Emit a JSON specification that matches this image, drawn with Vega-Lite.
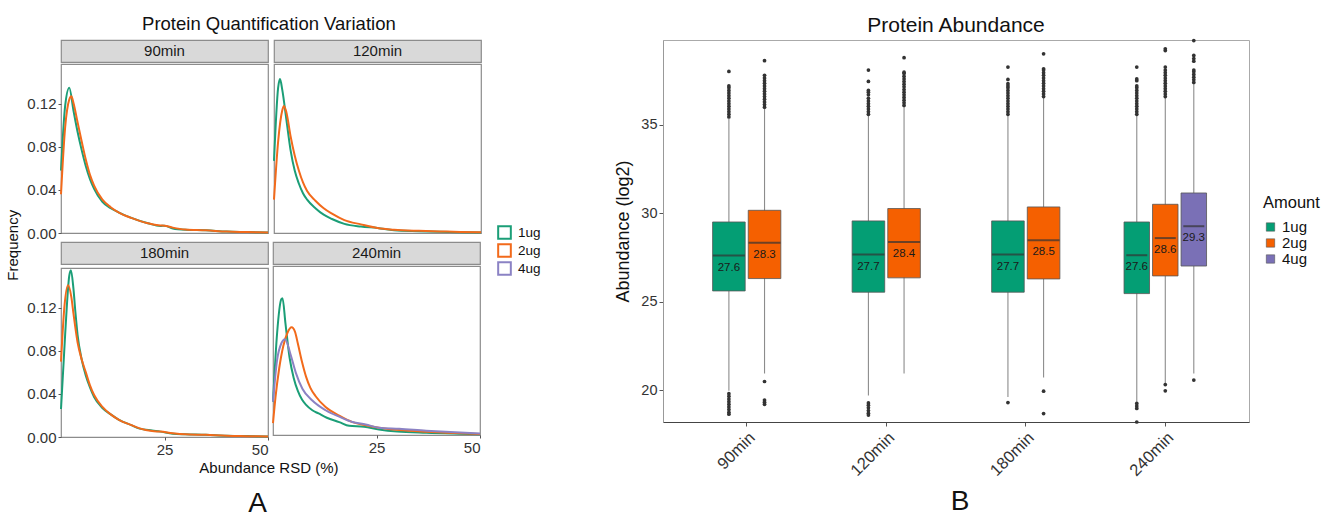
{
  "$schema": "https://vega.github.io/schema/vega-lite/v6.json",
  "background": "white",
  "padding": {"left": 6, "top": 14, "right": 5, "bottom": 0},
  "config": {
    "font": "Liberation Sans",
    "title": {"fontWeight": "normal", "color": "#111111"},
    "axis": {"grid": false, "labelColor": "#333333", "titleColor": "#111111", "tickColor": "#555555", "titleFontWeight": "normal"},
    "legend": {"labelColor": "#111111", "titleColor": "#111111", "padding": 0}
  },
  "datasets": {
    "dens": [
      {"Time":"90min","Amount":"1ug","RSD":0,"Freq":0.058},{"Time":"90min","Amount":"1ug","RSD":1,"Freq":0.118},{"Time":"90min","Amount":"1ug","RSD":2,"Freq":0.135},{"Time":"90min","Amount":"1ug","RSD":3,"Freq":0.114},{"Time":"90min","Amount":"1ug","RSD":4,"Freq":0.094},{"Time":"90min","Amount":"1ug","RSD":5,"Freq":0.077},{"Time":"90min","Amount":"1ug","RSD":6,"Freq":0.062},{"Time":"90min","Amount":"1ug","RSD":7,"Freq":0.05},{"Time":"90min","Amount":"1ug","RSD":8,"Freq":0.041},{"Time":"90min","Amount":"1ug","RSD":10,"Freq":0.029},{"Time":"90min","Amount":"1ug","RSD":12,"Freq":0.023},{"Time":"90min","Amount":"1ug","RSD":14,"Freq":0.019},{"Time":"90min","Amount":"1ug","RSD":17,"Freq":0.014},{"Time":"90min","Amount":"1ug","RSD":21,"Freq":0.009},{"Time":"90min","Amount":"1ug","RSD":24,"Freq":0.0065},{"Time":"90min","Amount":"1ug","RSD":25,"Freq":0.0068},{"Time":"90min","Amount":"1ug","RSD":27,"Freq":0.0042},{"Time":"90min","Amount":"1ug","RSD":30,"Freq":0.003},{"Time":"90min","Amount":"1ug","RSD":35,"Freq":0.0025},{"Time":"90min","Amount":"1ug","RSD":40,"Freq":0.0013},{"Time":"90min","Amount":"1ug","RSD":45,"Freq":0.0009},{"Time":"90min","Amount":"1ug","RSD":50,"Freq":0.0004},
      {"Time":"90min","Amount":"2ug","RSD":0,"Freq":0.036},{"Time":"90min","Amount":"2ug","RSD":1,"Freq":0.098},{"Time":"90min","Amount":"2ug","RSD":2,"Freq":0.124},{"Time":"90min","Amount":"2ug","RSD":2.5,"Freq":0.127},{"Time":"90min","Amount":"2ug","RSD":3,"Freq":0.121},{"Time":"90min","Amount":"2ug","RSD":4,"Freq":0.103},{"Time":"90min","Amount":"2ug","RSD":5,"Freq":0.085},{"Time":"90min","Amount":"2ug","RSD":6,"Freq":0.068},{"Time":"90min","Amount":"2ug","RSD":7,"Freq":0.054},{"Time":"90min","Amount":"2ug","RSD":8,"Freq":0.044},{"Time":"90min","Amount":"2ug","RSD":10,"Freq":0.031},{"Time":"90min","Amount":"2ug","RSD":12,"Freq":0.024},{"Time":"90min","Amount":"2ug","RSD":14,"Freq":0.019},{"Time":"90min","Amount":"2ug","RSD":17,"Freq":0.014},{"Time":"90min","Amount":"2ug","RSD":21,"Freq":0.009},{"Time":"90min","Amount":"2ug","RSD":24,"Freq":0.007},{"Time":"90min","Amount":"2ug","RSD":25,"Freq":0.0068},{"Time":"90min","Amount":"2ug","RSD":27,"Freq":0.005},{"Time":"90min","Amount":"2ug","RSD":30,"Freq":0.0032},{"Time":"90min","Amount":"2ug","RSD":35,"Freq":0.0025},{"Time":"90min","Amount":"2ug","RSD":40,"Freq":0.0013},{"Time":"90min","Amount":"2ug","RSD":45,"Freq":0.0009},{"Time":"90min","Amount":"2ug","RSD":50,"Freq":0.0005},
      {"Time":"120min","Amount":"1ug","RSD":0,"Freq":0.067},{"Time":"120min","Amount":"1ug","RSD":1,"Freq":0.135},{"Time":"120min","Amount":"1ug","RSD":1.45,"Freq":0.143},{"Time":"120min","Amount":"1ug","RSD":2,"Freq":0.133},{"Time":"120min","Amount":"1ug","RSD":3,"Freq":0.105},{"Time":"120min","Amount":"1ug","RSD":4,"Freq":0.077},{"Time":"120min","Amount":"1ug","RSD":5,"Freq":0.058},{"Time":"120min","Amount":"1ug","RSD":6,"Freq":0.046},{"Time":"120min","Amount":"1ug","RSD":7,"Freq":0.037},{"Time":"120min","Amount":"1ug","RSD":8,"Freq":0.031},{"Time":"120min","Amount":"1ug","RSD":10,"Freq":0.023},{"Time":"120min","Amount":"1ug","RSD":12,"Freq":0.017},{"Time":"120min","Amount":"1ug","RSD":14,"Freq":0.013},{"Time":"120min","Amount":"1ug","RSD":17,"Freq":0.0085},{"Time":"120min","Amount":"1ug","RSD":21,"Freq":0.006},{"Time":"120min","Amount":"1ug","RSD":25,"Freq":0.0046},{"Time":"120min","Amount":"1ug","RSD":29,"Freq":0.0025},{"Time":"120min","Amount":"1ug","RSD":35,"Freq":0.0017},{"Time":"120min","Amount":"1ug","RSD":40,"Freq":0.0012},{"Time":"120min","Amount":"1ug","RSD":45,"Freq":0.0008},{"Time":"120min","Amount":"1ug","RSD":50,"Freq":0.0005},
      {"Time":"120min","Amount":"2ug","RSD":0,"Freq":0.031},{"Time":"120min","Amount":"2ug","RSD":1,"Freq":0.085},{"Time":"120min","Amount":"2ug","RSD":2,"Freq":0.114},{"Time":"120min","Amount":"2ug","RSD":2.4,"Freq":0.118},{"Time":"120min","Amount":"2ug","RSD":3,"Freq":0.112},{"Time":"120min","Amount":"2ug","RSD":4,"Freq":0.09},{"Time":"120min","Amount":"2ug","RSD":5,"Freq":0.072},{"Time":"120min","Amount":"2ug","RSD":6,"Freq":0.058},{"Time":"120min","Amount":"2ug","RSD":7,"Freq":0.047},{"Time":"120min","Amount":"2ug","RSD":8,"Freq":0.039},{"Time":"120min","Amount":"2ug","RSD":10,"Freq":0.03},{"Time":"120min","Amount":"2ug","RSD":12,"Freq":0.023},{"Time":"120min","Amount":"2ug","RSD":14,"Freq":0.018},{"Time":"120min","Amount":"2ug","RSD":17,"Freq":0.012},{"Time":"120min","Amount":"2ug","RSD":21,"Freq":0.008},{"Time":"120min","Amount":"2ug","RSD":25,"Freq":0.0046},{"Time":"120min","Amount":"2ug","RSD":29,"Freq":0.003},{"Time":"120min","Amount":"2ug","RSD":35,"Freq":0.002},{"Time":"120min","Amount":"2ug","RSD":40,"Freq":0.0015},{"Time":"120min","Amount":"2ug","RSD":45,"Freq":0.001},{"Time":"120min","Amount":"2ug","RSD":50,"Freq":0.0006},
      {"Time":"180min","Amount":"1ug","RSD":0,"Freq":0.026},{"Time":"180min","Amount":"1ug","RSD":1,"Freq":0.095},{"Time":"180min","Amount":"1ug","RSD":2,"Freq":0.15},{"Time":"180min","Amount":"1ug","RSD":2.4,"Freq":0.155},{"Time":"180min","Amount":"1ug","RSD":3,"Freq":0.138},{"Time":"180min","Amount":"1ug","RSD":3.5,"Freq":0.115},{"Time":"180min","Amount":"1ug","RSD":4,"Freq":0.095},{"Time":"180min","Amount":"1ug","RSD":5,"Freq":0.072},{"Time":"180min","Amount":"1ug","RSD":6,"Freq":0.057},{"Time":"180min","Amount":"1ug","RSD":7,"Freq":0.046},{"Time":"180min","Amount":"1ug","RSD":8,"Freq":0.037},{"Time":"180min","Amount":"1ug","RSD":10,"Freq":0.027},{"Time":"180min","Amount":"1ug","RSD":12,"Freq":0.021},{"Time":"180min","Amount":"1ug","RSD":14,"Freq":0.016},{"Time":"180min","Amount":"1ug","RSD":17,"Freq":0.011},{"Time":"180min","Amount":"1ug","RSD":19,"Freq":0.0078},{"Time":"180min","Amount":"1ug","RSD":22,"Freq":0.006},{"Time":"180min","Amount":"1ug","RSD":24,"Freq":0.005},{"Time":"180min","Amount":"1ug","RSD":27,"Freq":0.003},{"Time":"180min","Amount":"1ug","RSD":30,"Freq":0.0025},{"Time":"180min","Amount":"1ug","RSD":35,"Freq":0.002},{"Time":"180min","Amount":"1ug","RSD":40,"Freq":0.0012},{"Time":"180min","Amount":"1ug","RSD":45,"Freq":0.0009},{"Time":"180min","Amount":"1ug","RSD":50,"Freq":0.0004},
      {"Time":"180min","Amount":"2ug","RSD":0,"Freq":0.07},{"Time":"180min","Amount":"2ug","RSD":0.8,"Freq":0.12},{"Time":"180min","Amount":"2ug","RSD":1.7,"Freq":0.141},{"Time":"180min","Amount":"2ug","RSD":2.5,"Freq":0.13},{"Time":"180min","Amount":"2ug","RSD":3,"Freq":0.115},{"Time":"180min","Amount":"2ug","RSD":4,"Freq":0.088},{"Time":"180min","Amount":"2ug","RSD":5,"Freq":0.072},{"Time":"180min","Amount":"2ug","RSD":6,"Freq":0.06},{"Time":"180min","Amount":"2ug","RSD":7,"Freq":0.048},{"Time":"180min","Amount":"2ug","RSD":8,"Freq":0.039},{"Time":"180min","Amount":"2ug","RSD":10,"Freq":0.028},{"Time":"180min","Amount":"2ug","RSD":12,"Freq":0.021},{"Time":"180min","Amount":"2ug","RSD":14,"Freq":0.016},{"Time":"180min","Amount":"2ug","RSD":17,"Freq":0.011},{"Time":"180min","Amount":"2ug","RSD":19,"Freq":0.008},{"Time":"180min","Amount":"2ug","RSD":22,"Freq":0.0055},{"Time":"180min","Amount":"2ug","RSD":24,"Freq":0.005},{"Time":"180min","Amount":"2ug","RSD":27,"Freq":0.0035},{"Time":"180min","Amount":"2ug","RSD":30,"Freq":0.0025},{"Time":"180min","Amount":"2ug","RSD":35,"Freq":0.002},{"Time":"180min","Amount":"2ug","RSD":40,"Freq":0.0012},{"Time":"180min","Amount":"2ug","RSD":45,"Freq":0.0008},{"Time":"180min","Amount":"2ug","RSD":50,"Freq":0.0004},
      {"Time":"240min","Amount":"1ug","RSD":0,"Freq":0.031},{"Time":"240min","Amount":"1ug","RSD":1,"Freq":0.095},{"Time":"240min","Amount":"1ug","RSD":2,"Freq":0.126},{"Time":"240min","Amount":"1ug","RSD":2.3,"Freq":0.127},{"Time":"240min","Amount":"1ug","RSD":3,"Freq":0.104},{"Time":"240min","Amount":"1ug","RSD":4,"Freq":0.072},{"Time":"240min","Amount":"1ug","RSD":5,"Freq":0.053},{"Time":"240min","Amount":"1ug","RSD":6,"Freq":0.041},{"Time":"240min","Amount":"1ug","RSD":7,"Freq":0.033},{"Time":"240min","Amount":"1ug","RSD":8,"Freq":0.028},{"Time":"240min","Amount":"1ug","RSD":9.5,"Freq":0.023},{"Time":"240min","Amount":"1ug","RSD":11,"Freq":0.02},{"Time":"240min","Amount":"1ug","RSD":13,"Freq":0.016},{"Time":"240min","Amount":"1ug","RSD":16,"Freq":0.012},{"Time":"240min","Amount":"1ug","RSD":18.4,"Freq":0.0085},{"Time":"240min","Amount":"1ug","RSD":22,"Freq":0.0077},{"Time":"240min","Amount":"1ug","RSD":25.6,"Freq":0.0052},{"Time":"240min","Amount":"1ug","RSD":30,"Freq":0.0032},{"Time":"240min","Amount":"1ug","RSD":37,"Freq":0.002},{"Time":"240min","Amount":"1ug","RSD":45,"Freq":0.0012},{"Time":"240min","Amount":"1ug","RSD":50,"Freq":0.0008},
      {"Time":"240min","Amount":"2ug","RSD":0,"Freq":0.011},{"Time":"240min","Amount":"2ug","RSD":0.6,"Freq":0.035},{"Time":"240min","Amount":"2ug","RSD":1.5,"Freq":0.062},{"Time":"240min","Amount":"2ug","RSD":2.5,"Freq":0.083},{"Time":"240min","Amount":"2ug","RSD":3.5,"Freq":0.095},{"Time":"240min","Amount":"2ug","RSD":4.5,"Freq":0.1},{"Time":"240min","Amount":"2ug","RSD":5.3,"Freq":0.096},{"Time":"240min","Amount":"2ug","RSD":6,"Freq":0.085},{"Time":"240min","Amount":"2ug","RSD":7,"Freq":0.068},{"Time":"240min","Amount":"2ug","RSD":8,"Freq":0.054},{"Time":"240min","Amount":"2ug","RSD":9,"Freq":0.044},{"Time":"240min","Amount":"2ug","RSD":10.3,"Freq":0.036},{"Time":"240min","Amount":"2ug","RSD":12.7,"Freq":0.026},{"Time":"240min","Amount":"2ug","RSD":16,"Freq":0.018},{"Time":"240min","Amount":"2ug","RSD":19.2,"Freq":0.012},{"Time":"240min","Amount":"2ug","RSD":22.4,"Freq":0.009},{"Time":"240min","Amount":"2ug","RSD":25.6,"Freq":0.0068},{"Time":"240min","Amount":"2ug","RSD":30.5,"Freq":0.0046},{"Time":"240min","Amount":"2ug","RSD":37,"Freq":0.003},{"Time":"240min","Amount":"2ug","RSD":44,"Freq":0.0018},{"Time":"240min","Amount":"2ug","RSD":50,"Freq":0.001},
      {"Time":"240min","Amount":"4ug","RSD":0,"Freq":0.031},{"Time":"240min","Amount":"4ug","RSD":1,"Freq":0.07},{"Time":"240min","Amount":"4ug","RSD":2,"Freq":0.085},{"Time":"240min","Amount":"4ug","RSD":2.9,"Freq":0.089},{"Time":"240min","Amount":"4ug","RSD":4.3,"Freq":0.074},{"Time":"240min","Amount":"4ug","RSD":5.5,"Freq":0.058},{"Time":"240min","Amount":"4ug","RSD":7.1,"Freq":0.043},{"Time":"240min","Amount":"4ug","RSD":9.5,"Freq":0.032},{"Time":"240min","Amount":"4ug","RSD":12.7,"Freq":0.023},{"Time":"240min","Amount":"4ug","RSD":16,"Freq":0.017},{"Time":"240min","Amount":"4ug","RSD":19.2,"Freq":0.012},{"Time":"240min","Amount":"4ug","RSD":22.4,"Freq":0.0098},{"Time":"240min","Amount":"4ug","RSD":25.6,"Freq":0.0068},{"Time":"240min","Amount":"4ug","RSD":30.5,"Freq":0.0058},{"Time":"240min","Amount":"4ug","RSD":37,"Freq":0.004},{"Time":"240min","Amount":"4ug","RSD":44,"Freq":0.0025},{"Time":"240min","Amount":"4ug","RSD":50,"Freq":0.0015}
    ],
    "box": [
      {"Time":"90min","Amount":"1ug","lower":19.96,"q1":25.61,"median":27.61,"q3":29.51,"upper":35.35},
      {"Time":"90min","Amount":"2ug","lower":20.94,"q1":26.31,"median":28.34,"q3":30.17,"upper":35.92},
      {"Time":"120min","Amount":"1ug","lower":19.7,"q1":25.54,"median":27.67,"q3":29.57,"upper":35.54},
      {"Time":"120min","Amount":"2ug","lower":20.94,"q1":26.35,"median":28.38,"q3":30.27,"upper":36.05},
      {"Time":"180min","Amount":"1ug","lower":19.62,"q1":25.54,"median":27.67,"q3":29.57,"upper":35.54},
      {"Time":"180min","Amount":"2ug","lower":20.72,"q1":26.29,"median":28.47,"q3":30.36,"upper":36.57},
      {"Time":"240min","Amount":"1ug","lower":19.34,"q1":25.46,"median":27.63,"q3":29.51,"upper":35.54},
      {"Time":"240min","Amount":"2ug","lower":20.41,"q1":26.46,"median":28.6,"q3":30.51,"upper":36.57},
      {"Time":"240min","Amount":"4ug","lower":20.94,"q1":27.02,"median":29.27,"q3":31.15,"upper":37.33}
    ],
    "out": [
      {"Time":"90min","Amount":"1ug","Abundance":35.45},{"Time":"90min","Amount":"1ug","Abundance":35.6},{"Time":"90min","Amount":"1ug","Abundance":35.75},{"Time":"90min","Amount":"1ug","Abundance":35.9},{"Time":"90min","Amount":"1ug","Abundance":36.05},{"Time":"90min","Amount":"1ug","Abundance":36.2},{"Time":"90min","Amount":"1ug","Abundance":36.35},{"Time":"90min","Amount":"1ug","Abundance":36.5},{"Time":"90min","Amount":"1ug","Abundance":36.65},{"Time":"90min","Amount":"1ug","Abundance":36.8},{"Time":"90min","Amount":"1ug","Abundance":36.95},{"Time":"90min","Amount":"1ug","Abundance":37.1},{"Time":"90min","Amount":"1ug","Abundance":37.2},{"Time":"90min","Amount":"1ug","Abundance":38.02},
      {"Time":"90min","Amount":"1ug","Abundance":19.8},{"Time":"90min","Amount":"1ug","Abundance":19.65},{"Time":"90min","Amount":"1ug","Abundance":19.5},{"Time":"90min","Amount":"1ug","Abundance":19.35},{"Time":"90min","Amount":"1ug","Abundance":19.2},{"Time":"90min","Amount":"1ug","Abundance":19.05},{"Time":"90min","Amount":"1ug","Abundance":18.9},{"Time":"90min","Amount":"1ug","Abundance":18.75},{"Time":"90min","Amount":"1ug","Abundance":18.64},
      {"Time":"90min","Amount":"2ug","Abundance":36.0},{"Time":"90min","Amount":"2ug","Abundance":36.15},{"Time":"90min","Amount":"2ug","Abundance":36.3},{"Time":"90min","Amount":"2ug","Abundance":36.45},{"Time":"90min","Amount":"2ug","Abundance":36.6},{"Time":"90min","Amount":"2ug","Abundance":36.75},{"Time":"90min","Amount":"2ug","Abundance":36.9},{"Time":"90min","Amount":"2ug","Abundance":37.05},{"Time":"90min","Amount":"2ug","Abundance":37.2},{"Time":"90min","Amount":"2ug","Abundance":37.35},{"Time":"90min","Amount":"2ug","Abundance":37.5},{"Time":"90min","Amount":"2ug","Abundance":37.65},{"Time":"90min","Amount":"2ug","Abundance":37.8},{"Time":"90min","Amount":"2ug","Abundance":38.63},
      {"Time":"90min","Amount":"2ug","Abundance":20.49},{"Time":"90min","Amount":"2ug","Abundance":19.44},{"Time":"90min","Amount":"2ug","Abundance":19.32},{"Time":"90min","Amount":"2ug","Abundance":19.2},
      {"Time":"120min","Amount":"1ug","Abundance":35.6},{"Time":"120min","Amount":"1ug","Abundance":35.75},{"Time":"120min","Amount":"1ug","Abundance":35.9},{"Time":"120min","Amount":"1ug","Abundance":36.05},{"Time":"120min","Amount":"1ug","Abundance":36.2},{"Time":"120min","Amount":"1ug","Abundance":36.35},{"Time":"120min","Amount":"1ug","Abundance":36.5},{"Time":"120min","Amount":"1ug","Abundance":36.7},{"Time":"120min","Amount":"1ug","Abundance":36.85},{"Time":"120min","Amount":"1ug","Abundance":36.95},{"Time":"120min","Amount":"1ug","Abundance":37.46},{"Time":"120min","Amount":"1ug","Abundance":38.1},
      {"Time":"120min","Amount":"1ug","Abundance":19.28},{"Time":"120min","Amount":"1ug","Abundance":19.15},{"Time":"120min","Amount":"1ug","Abundance":19.0},{"Time":"120min","Amount":"1ug","Abundance":18.85},{"Time":"120min","Amount":"1ug","Abundance":18.7},{"Time":"120min","Amount":"1ug","Abundance":18.59},
      {"Time":"120min","Amount":"2ug","Abundance":36.1},{"Time":"120min","Amount":"2ug","Abundance":36.25},{"Time":"120min","Amount":"2ug","Abundance":36.4},{"Time":"120min","Amount":"2ug","Abundance":36.55},{"Time":"120min","Amount":"2ug","Abundance":36.7},{"Time":"120min","Amount":"2ug","Abundance":36.85},{"Time":"120min","Amount":"2ug","Abundance":37.0},{"Time":"120min","Amount":"2ug","Abundance":37.15},{"Time":"120min","Amount":"2ug","Abundance":37.3},{"Time":"120min","Amount":"2ug","Abundance":37.45},{"Time":"120min","Amount":"2ug","Abundance":37.6},{"Time":"120min","Amount":"2ug","Abundance":37.75},{"Time":"120min","Amount":"2ug","Abundance":37.9},{"Time":"120min","Amount":"2ug","Abundance":37.98},{"Time":"120min","Amount":"2ug","Abundance":38.8},
      {"Time":"180min","Amount":"1ug","Abundance":35.6},{"Time":"180min","Amount":"1ug","Abundance":35.75},{"Time":"180min","Amount":"1ug","Abundance":35.9},{"Time":"180min","Amount":"1ug","Abundance":36.05},{"Time":"180min","Amount":"1ug","Abundance":36.2},{"Time":"180min","Amount":"1ug","Abundance":36.35},{"Time":"180min","Amount":"1ug","Abundance":36.5},{"Time":"180min","Amount":"1ug","Abundance":36.65},{"Time":"180min","Amount":"1ug","Abundance":36.8},{"Time":"180min","Amount":"1ug","Abundance":36.95},{"Time":"180min","Amount":"1ug","Abundance":37.1},{"Time":"180min","Amount":"1ug","Abundance":37.2},{"Time":"180min","Amount":"1ug","Abundance":37.33},{"Time":"180min","Amount":"1ug","Abundance":37.57},{"Time":"180min","Amount":"1ug","Abundance":38.27},
      {"Time":"180min","Amount":"1ug","Abundance":19.3},
      {"Time":"180min","Amount":"2ug","Abundance":36.6},{"Time":"180min","Amount":"2ug","Abundance":36.75},{"Time":"180min","Amount":"2ug","Abundance":36.9},{"Time":"180min","Amount":"2ug","Abundance":37.05},{"Time":"180min","Amount":"2ug","Abundance":37.2},{"Time":"180min","Amount":"2ug","Abundance":37.35},{"Time":"180min","Amount":"2ug","Abundance":37.5},{"Time":"180min","Amount":"2ug","Abundance":37.65},{"Time":"180min","Amount":"2ug","Abundance":37.8},{"Time":"180min","Amount":"2ug","Abundance":37.95},{"Time":"180min","Amount":"2ug","Abundance":38.1},{"Time":"180min","Amount":"2ug","Abundance":38.17},{"Time":"180min","Amount":"2ug","Abundance":39.02},
      {"Time":"180min","Amount":"2ug","Abundance":19.94},{"Time":"180min","Amount":"2ug","Abundance":18.68},
      {"Time":"240min","Amount":"1ug","Abundance":35.6},{"Time":"240min","Amount":"1ug","Abundance":35.75},{"Time":"240min","Amount":"1ug","Abundance":35.9},{"Time":"240min","Amount":"1ug","Abundance":36.05},{"Time":"240min","Amount":"1ug","Abundance":36.2},{"Time":"240min","Amount":"1ug","Abundance":36.35},{"Time":"240min","Amount":"1ug","Abundance":36.5},{"Time":"240min","Amount":"1ug","Abundance":36.65},{"Time":"240min","Amount":"1ug","Abundance":36.8},{"Time":"240min","Amount":"1ug","Abundance":36.95},{"Time":"240min","Amount":"1ug","Abundance":37.1},{"Time":"240min","Amount":"1ug","Abundance":37.2},{"Time":"240min","Amount":"1ug","Abundance":37.5},{"Time":"240min","Amount":"1ug","Abundance":37.6},{"Time":"240min","Amount":"1ug","Abundance":38.27},
      {"Time":"240min","Amount":"1ug","Abundance":19.25},{"Time":"240min","Amount":"1ug","Abundance":19.1},{"Time":"240min","Amount":"1ug","Abundance":18.97},{"Time":"240min","Amount":"1ug","Abundance":18.2},
      {"Time":"240min","Amount":"2ug","Abundance":36.6},{"Time":"240min","Amount":"2ug","Abundance":36.75},{"Time":"240min","Amount":"2ug","Abundance":36.9},{"Time":"240min","Amount":"2ug","Abundance":37.05},{"Time":"240min","Amount":"2ug","Abundance":37.2},{"Time":"240min","Amount":"2ug","Abundance":37.35},{"Time":"240min","Amount":"2ug","Abundance":37.5},{"Time":"240min","Amount":"2ug","Abundance":37.65},{"Time":"240min","Amount":"2ug","Abundance":37.8},{"Time":"240min","Amount":"2ug","Abundance":37.95},{"Time":"240min","Amount":"2ug","Abundance":38.1},{"Time":"240min","Amount":"2ug","Abundance":38.27},{"Time":"240min","Amount":"2ug","Abundance":39.2},{"Time":"240min","Amount":"2ug","Abundance":39.3},
      {"Time":"240min","Amount":"2ug","Abundance":20.32},{"Time":"240min","Amount":"2ug","Abundance":19.96},
      {"Time":"240min","Amount":"4ug","Abundance":37.4},{"Time":"240min","Amount":"4ug","Abundance":37.55},{"Time":"240min","Amount":"4ug","Abundance":37.7},{"Time":"240min","Amount":"4ug","Abundance":37.85},{"Time":"240min","Amount":"4ug","Abundance":38.0},{"Time":"240min","Amount":"4ug","Abundance":38.1},{"Time":"240min","Amount":"4ug","Abundance":38.6},{"Time":"240min","Amount":"4ug","Abundance":38.75},{"Time":"240min","Amount":"4ug","Abundance":38.93},{"Time":"240min","Amount":"4ug","Abundance":39.77},
      {"Time":"240min","Amount":"4ug","Abundance":20.57}
    ]
  },
  "hconcat": [
    {
      "title": {"text": "A", "orient": "bottom", "anchor": "middle", "fontSize": 28, "dx": -16, "offset": 14},
      "vconcat": [{
        "title": {"text": "Frequency", "orient": "left", "anchor": "middle", "fontSize": 15, "offset": 5},
        "vconcat": [{
          "title": {"text": "Protein Quantification Variation", "fontSize": 18.5, "anchor": "middle", "dx": 13, "offset": 6},
          "vconcat": [{
            "title": {"text": "Abundance RSD (%)", "orient": "bottom", "anchor": "middle", "fontSize": 15, "dx": 13, "offset": 3},
            "spacing": -5.5,
            "vconcat": [
              {"spacing": -4, "hconcat": [
              {"spacing": 0, "vconcat": [
                {"width": 207, "height": 22, "data": {"values": [{"Time": "90min"}]}, "mark": {"type": "text", "fontSize": 15, "color": "#1A1A1A", "baseline": "middle"}, "encoding": {"text": {"field": "Time", "type": "nominal"}}, "view": {"fill": "#D9D9D9", "stroke": "#8C8C8C", "strokeWidth": 1.2}},
                {"width": 207, "height": 169, "data": {"name": "dens"}, "transform": [{"filter": "datum.Time === '90min'"}],
                 "mark": {"type": "line", "interpolate": "monotone", "strokeWidth": 2},
                 "encoding": {
                   "x": {"field": "RSD", "type": "quantitative", "scale": {"domain": [0, 50], "nice": false}, "axis": null},
                   "y": {"field": "Freq", "type": "quantitative", "scale": {"domain": [0, 0.157], "nice": false}, "axis": {"values": [0, 0.04, 0.08, 0.12], "format": ".2f", "title": null, "labelFontSize": 15, "tickSize": 3, "domain": false, "labelPadding": 2}},
                   "color": {"field": "Amount", "type": "nominal", "scale": {"domain": ["1ug", "2ug", "4ug"], "range": ["#1B9E77", "#F26A1B", "#8B82C4"]}, "legend": {"title": null, "orient": "none", "legendX": 436, "legendY": 185, "labelFontSize": 13.5, "symbolType": "square", "symbolSize": 160, "symbolStrokeWidth": 2, "symbolFillColor": "white", "rowPadding": -10, "labelOffset": 6}}
                 },
                 "view": {"stroke": "#8C8C8C", "strokeWidth": 1.2}}
              ]},
              {"spacing": 0, "vconcat": [
                {"width": 207, "height": 22, "data": {"values": [{"Time": "120min"}]}, "mark": {"type": "text", "fontSize": 15, "color": "#1A1A1A", "baseline": "middle"}, "encoding": {"text": {"field": "Time", "type": "nominal"}}, "view": {"fill": "#D9D9D9", "stroke": "#8C8C8C", "strokeWidth": 1.2}},
                {"width": 207, "height": 169, "data": {"name": "dens"}, "transform": [{"filter": "datum.Time === '120min'"}],
                 "mark": {"type": "line", "interpolate": "monotone", "strokeWidth": 2},
                 "encoding": {
                   "x": {"field": "RSD", "type": "quantitative", "scale": {"domain": [0, 50], "nice": false}, "axis": null},
                   "y": {"field": "Freq", "type": "quantitative", "scale": {"domain": [0, 0.157], "nice": false}, "axis": null},
                   "color": {"field": "Amount", "type": "nominal", "scale": {"domain": ["1ug", "2ug", "4ug"], "range": ["#1B9E77", "#F26A1B", "#8B82C4"]}, "legend": {"title": null, "orient": "none", "legendX": 436, "legendY": 185, "labelFontSize": 13.5, "symbolType": "square", "symbolSize": 160, "symbolStrokeWidth": 2, "symbolFillColor": "white", "rowPadding": -10, "labelOffset": 6}}
                 },
                 "view": {"stroke": "#8C8C8C", "strokeWidth": 1.2}}
              ]}
              ]},
              {"spacing": -5, "hconcat": [
              {"spacing": 0, "vconcat": [
                {"width": 207, "height": 22, "data": {"values": [{"Time": "180min"}]}, "mark": {"type": "text", "fontSize": 15, "color": "#1A1A1A", "baseline": "middle"}, "encoding": {"text": {"field": "Time", "type": "nominal"}}, "view": {"fill": "#D9D9D9", "stroke": "#8C8C8C", "strokeWidth": 1.2}},
                {"width": 207, "height": 169, "data": {"name": "dens"}, "transform": [{"filter": "datum.Time === '180min'"}],
                 "mark": {"type": "line", "interpolate": "monotone", "strokeWidth": 2},
                 "encoding": {
                   "x": {"field": "RSD", "type": "quantitative", "scale": {"domain": [0, 50], "nice": false}, "axis": {"values": [25, 50], "title": null, "labelFontSize": 15, "tickSize": 3, "domain": false, "labelPadding": 2}},
                   "y": {"field": "Freq", "type": "quantitative", "scale": {"domain": [0, 0.157], "nice": false}, "axis": {"values": [0, 0.04, 0.08, 0.12], "format": ".2f", "title": null, "labelFontSize": 15, "tickSize": 3, "domain": false, "labelPadding": 2}},
                   "color": {"field": "Amount", "type": "nominal", "scale": {"domain": ["1ug", "2ug", "4ug"], "range": ["#1B9E77", "#F26A1B", "#8B82C4"]}, "legend": {"title": null, "orient": "none", "legendX": 436, "legendY": 185, "labelFontSize": 13.5, "symbolType": "square", "symbolSize": 160, "symbolStrokeWidth": 2, "symbolFillColor": "white", "rowPadding": -10, "labelOffset": 6}}
                 },
                 "view": {"stroke": "#8C8C8C", "strokeWidth": 1.2}}
              ]},
              {"spacing": 0, "vconcat": [
                {"width": 207, "height": 22, "data": {"values": [{"Time": "240min"}]}, "mark": {"type": "text", "fontSize": 15, "color": "#1A1A1A", "baseline": "middle"}, "encoding": {"text": {"field": "Time", "type": "nominal"}}, "view": {"fill": "#D9D9D9", "stroke": "#8C8C8C", "strokeWidth": 1.2}},
                {"width": 207, "height": 169, "data": {"name": "dens"}, "transform": [{"filter": "datum.Time === '240min'"}],
                 "mark": {"type": "line", "interpolate": "monotone", "strokeWidth": 2},
                 "encoding": {
                   "x": {"field": "RSD", "type": "quantitative", "scale": {"domain": [0, 50], "nice": false}, "axis": {"values": [25, 50], "title": null, "labelFontSize": 15, "tickSize": 3, "domain": false, "labelPadding": 2}},
                   "y": {"field": "Freq", "type": "quantitative", "scale": {"domain": [0, 0.157], "nice": false}, "axis": null},
                   "color": {"field": "Amount", "type": "nominal", "scale": {"domain": ["1ug", "2ug", "4ug"], "range": ["#1B9E77", "#F26A1B", "#8B82C4"]}, "legend": {"title": null, "orient": "none", "legendX": 436, "legendY": 185, "labelFontSize": 13.5, "symbolType": "square", "symbolSize": 160, "symbolStrokeWidth": 2, "symbolFillColor": "white", "rowPadding": -10, "labelOffset": 6}}
                 },
                 "view": {"stroke": "#8C8C8C", "strokeWidth": 1.2}}
              ]}
              ]}
            ]
          }]
        }]
      }]
    },
    {
      "title": {"text": "B", "orient": "bottom", "anchor": "middle", "fontSize": 28, "dx": -7, "offset": 9},
      "vconcat": [{
        "title": {"text": "Protein Abundance", "fontSize": 21, "anchor": "middle", "offset": 3},
        "width": 586,
        "height": 382,
        "view": {"stroke": "#AAAAAA"},
        "resolve": {"scale": {"xOffset": "independent"}},
        "layer": [
          {
            "encoding": {
              "x": {"field": "Time", "type": "nominal", "sort": ["90min", "120min", "180min", "240min"], "scale": {"domain": ["90min", "120min", "180min", "240min"], "paddingInner": 0, "paddingOuter": 0.1}, "axis": {"title": null, "labelAngle": -45, "labelFontSize": 16.5, "tickSize": 4, "domainColor": "#444444", "domainWidth": 1.2, "labelPadding": 3}},
              "xOffset": {"field": "Amount", "type": "nominal", "scale": {"domain": ["1ug", "2ug"], "paddingInner": 0.086, "paddingOuter": 1.036}}
            },
            "layer": [
              {"data": {"name": "box"}, "transform": [{"filter": "datum.Time !== '240min'"}], "mark": {"type": "rule", "color": "#8C8C8C", "strokeWidth": 1.1},
               "encoding": {"y": {"field": "lower", "type": "quantitative", "title": "Abundance (log2)", "scale": {"domain": [18.2, 39.8], "nice": false, "zero": false}, "axis": {"values": [20, 25, 30, 35], "title": "Abundance (log2)", "titleFontSize": 18, "labelFontSize": 14.5, "tickSize": 4, "domainColor": "#999999", "titlePadding": 8}}, "y2": {"field": "upper"}}},
              {"data": {"name": "box"}, "transform": [{"filter": "datum.Time !== '240min'"}], "mark": {"type": "bar", "stroke": "#555555", "strokeWidth": 0.8},
               "encoding": {"y": {"field": "q1", "type": "quantitative", "title": "Abundance (log2)"}, "y2": {"field": "q3"},
                 "color": {"field": "Amount", "type": "nominal", "scale": {"domain": ["1ug", "2ug", "4ug"], "range": ["#049E74", "#F56000", "#7A70B6"]}, "legend": {"title": "Amount", "orient": "none", "legendX": 600, "legendY": 155, "titleFontSize": 16.5, "titleFontWeight": "normal", "labelFontSize": 15, "symbolType": "square", "symbolSize": 70, "symbolStrokeColor": "#555555", "symbolStrokeWidth": 0.6, "rowPadding": -2, "titlePadding": 8}}}},
              {"data": {"name": "box"}, "transform": [{"filter": "datum.Time !== '240min'"}], "mark": {"type": "tick", "color": "#333333", "thickness": 2, "size": 32},
               "encoding": {"y": {"field": "median", "type": "quantitative", "title": "Abundance (log2)"}}},
              {"data": {"name": "box"}, "transform": [{"filter": "datum.Time !== '240min'"}], "mark": {"type": "text", "fontSize": 11.5, "dy": 12, "color": "#1A1A1A"},
               "encoding": {"y": {"field": "median", "type": "quantitative", "title": "Abundance (log2)"}, "text": {"field": "median", "type": "quantitative", "format": ".1f"}}},
              {"data": {"name": "out"}, "transform": [{"filter": "datum.Time !== '240min'"}], "mark": {"type": "circle", "size": 14, "color": "#333333", "opacity": 1},
               "encoding": {"y": {"field": "Abundance", "type": "quantitative", "title": "Abundance (log2)"}}}
            ]
          },
          {
            "encoding": {
              "x": {"field": "Time", "type": "nominal", "sort": ["90min", "120min", "180min", "240min"], "scale": {"domain": ["90min", "120min", "180min", "240min"], "paddingInner": 0, "paddingOuter": 0.1}, "axis": {"title": null, "labelAngle": -45, "labelFontSize": 16.5, "tickSize": 4, "domainColor": "#444444", "domainWidth": 1.2, "labelPadding": 3}},
              "xOffset": {"field": "Amount", "type": "nominal", "scale": {"domain": ["1ug", "2ug", "4ug"], "paddingInner": 0.106, "paddingOuter": 1.521}}
            },
            "layer": [
              {"data": {"name": "box"}, "transform": [{"filter": "datum.Time === '240min'"}], "mark": {"type": "rule", "color": "#8C8C8C", "strokeWidth": 1.1},
               "encoding": {"y": {"field": "lower", "type": "quantitative", "title": "Abundance (log2)"}, "y2": {"field": "upper"}}},
              {"data": {"name": "box"}, "transform": [{"filter": "datum.Time === '240min'"}], "mark": {"type": "bar", "stroke": "#555555", "strokeWidth": 0.8},
               "encoding": {"y": {"field": "q1", "type": "quantitative", "title": "Abundance (log2)"}, "y2": {"field": "q3"},
                 "color": {"field": "Amount", "type": "nominal", "scale": {"domain": ["1ug", "2ug", "4ug"], "range": ["#049E74", "#F56000", "#7A70B6"]}, "legend": {"title": "Amount", "orient": "none", "legendX": 600, "legendY": 155, "titleFontSize": 16.5, "titleFontWeight": "normal", "labelFontSize": 15, "symbolType": "square", "symbolSize": 70, "symbolStrokeColor": "#555555", "symbolStrokeWidth": 0.6, "rowPadding": -2, "titlePadding": 8}}}},
              {"data": {"name": "box"}, "transform": [{"filter": "datum.Time === '240min'"}], "mark": {"type": "tick", "color": "#333333", "thickness": 2, "size": 21},
               "encoding": {"y": {"field": "median", "type": "quantitative", "title": "Abundance (log2)"}}},
              {"data": {"name": "box"}, "transform": [{"filter": "datum.Time === '240min'"}], "mark": {"type": "text", "fontSize": 11.5, "dy": 12, "color": "#1A1A1A"},
               "encoding": {"y": {"field": "median", "type": "quantitative", "title": "Abundance (log2)"}, "text": {"field": "median", "type": "quantitative", "format": ".1f"}}},
              {"data": {"name": "out"}, "transform": [{"filter": "datum.Time === '240min'"}], "mark": {"type": "circle", "size": 14, "color": "#333333", "opacity": 1},
               "encoding": {"y": {"field": "Abundance", "type": "quantitative", "title": "Abundance (log2)"}}}
            ]
          }
        ]
      }]
    }
  ],
  "spacing": 73,
  "resolve": {"scale": {"color": "independent"}, "legend": {"color": "independent"}}
}
